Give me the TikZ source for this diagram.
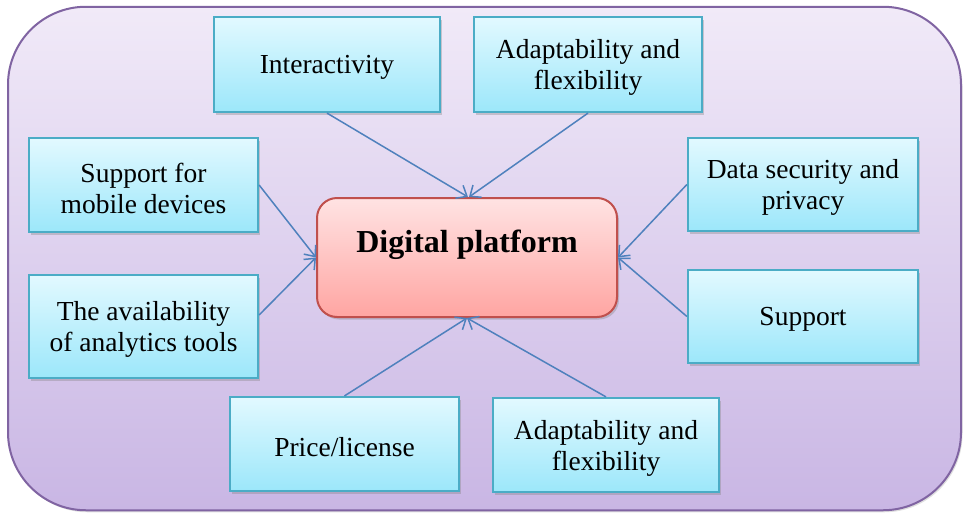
\documentclass[tikz,border=0pt]{standalone}
\usepackage{fontspec}
\setmainfont{Liberation Serif}
\usetikzlibrary{arrows.meta,shadows,positioning}
\definecolor{outerborder}{HTML}{8064A2}
\definecolor{outertop}{HTML}{F1EAF8}
\definecolor{outerbot}{HTML}{C9B6E4}
\definecolor{boxborder}{HTML}{4BACC6}
\definecolor{boxtop}{HTML}{E2F9FF}
\definecolor{boxbot}{HTML}{9CE7FA}
\definecolor{dpborder}{HTML}{C0504D}
\definecolor{dptop}{HTML}{FFE3E3}
\definecolor{dpbot}{HTML}{FFA5A2}
\definecolor{arrowcol}{HTML}{4F81BD}
\tikzset{
  factor/.style={draw=boxborder, line width=2.2pt, top color=boxtop, bottom color=boxbot,
    inner sep=0pt,
    drop shadow={shadow xshift=2pt, shadow yshift=-2.5pt, opacity=0.35}},
  factortext/.style={yshift=-3pt, inner sep=0pt, align=center,
    font=\fontsize{27.5}{31}\selectfont},
  central/.style={draw=dpborder, line width=2pt, top color=dptop, bottom color=dpbot,
    rounded corners=20pt, inner sep=0pt, minimum width=300pt, minimum height=119pt,
    drop shadow={shadow xshift=2pt, shadow yshift=-2.5pt, opacity=0.35}},
  frame/.style={draw=outerborder, line width=2pt, top color=outertop, bottom color=outerbot,
    rounded corners=78pt, inner sep=0pt,
    drop shadow={shadow xshift=1.5pt, shadow yshift=-2pt, opacity=0.25}},
  link/.style={draw=arrowcol, line width=1.5pt,
    -{Straight Barb[length=9pt,width=15pt,line width=1.5pt]}}
}
\begin{document}
\begin{tikzpicture}[x=1pt,y=-1pt]
\useasboundingbox (0,0) rectangle (968,522);
\node[frame, minimum width=953pt, minimum height=503.5pt] (outer) at (484.5,258.5) {};

\node[central, label={[font=\fontsize{32}{36}\selectfont\bfseries, inner sep=0pt, yshift=13pt]center:Digital platform}] (dp) at (467,257.5) {};

\node[factor, minimum width=226pt, minimum height=95pt, label={[factortext]center:Interactivity}] (inter) at (327,64.5) {};
\node[factor, minimum width=228pt, minimum height=95pt, label={[factortext]center:Adaptability and\\flexibility}] (adtop) at (588,64.5) {};
\node[factor, minimum width=229pt, minimum height=94pt, label={[factortext]center:Support for\\mobile devices}] (mob) at (143.5,185) {};
\node[factor, minimum width=229pt, minimum height=103pt, label={[factortext]center:The availability\\of analytics tools}] (ana) at (143.5,326.5) {};
\node[factor, minimum width=230pt, minimum height=93pt, label={[factortext]center:Data security and\\privacy}] (dat) at (803,184.5) {};
\node[factor, minimum width=230pt, minimum height=93pt, label={[factortext]center:Support}] (sup) at (803,316.5) {};
\node[factor, minimum width=229pt, minimum height=94pt, label={[factortext]center:Price/license}] (pri) at (344.5,444) {};
\node[factor, minimum width=226pt, minimum height=94pt, label={[factortext]center:Adaptability and\\flexibility}] (adb) at (606,445) {};

\draw[link] (inter.south) -- ([xshift=1pt]dp.north);
\draw[link] (adtop.south) -- ([xshift=2pt]dp.north);
\draw[link] (mob.east) -- (dp.west);
\draw[link] ([yshift=11.5pt]ana.east) -- (dp.west);
\draw[link] (dat.west) -- (dp.east);
\draw[link] (sup.west) -- (dp.east);
\draw[link] (pri.north) -- (dp.south);
\draw[link] (adb.north) -- (dp.south);
\end{tikzpicture}
\end{document}
